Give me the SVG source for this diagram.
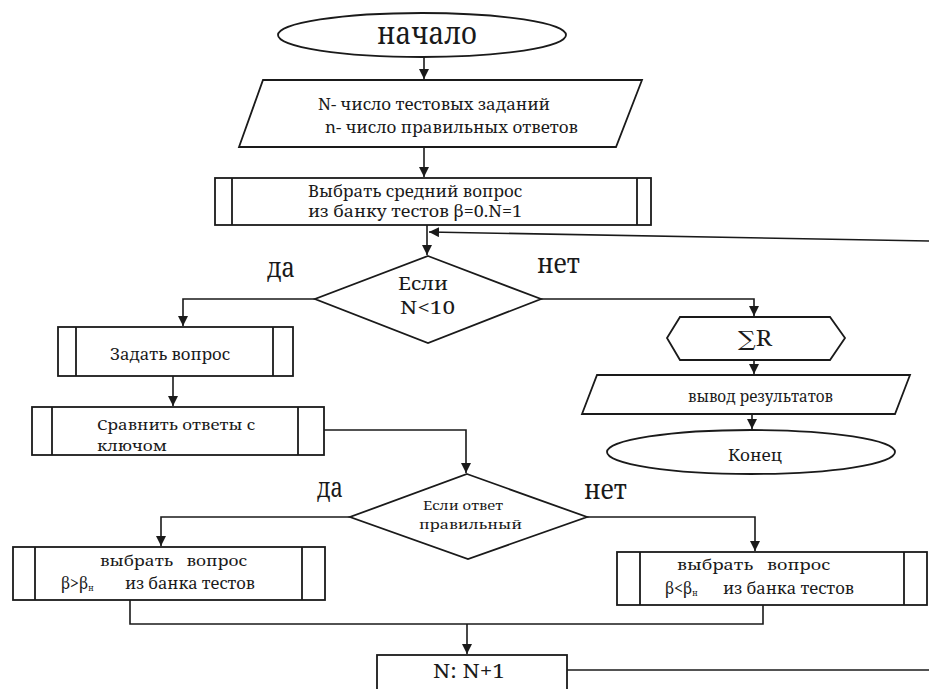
<svg xmlns="http://www.w3.org/2000/svg" width="929" height="689" viewBox="0 0 929 689">
<style>
.s{fill:#fff;stroke:#1a1a1a;stroke-width:1.8}
.l{fill:none;stroke:#1a1a1a;stroke-width:1.8}
.c{fill:none;stroke:#1a1a1a;stroke-width:1.6}
.t{font-family:'Noto Serif','DejaVu Serif','Liberation Serif',serif;fill:#1a1a1a;white-space:pre}
</style>
<defs>
<marker id="a" markerUnits="userSpaceOnUse" markerWidth="12" markerHeight="12" refX="10" refY="5" orient="auto">
<path d="M0,0 L10,5 L0,10 z" fill="#1a1a1a"/>
</marker>
</defs>
<rect width="929" height="689" fill="#fff"/>
<g id="connectors">
<path class="c" d="M424,57 V79" marker-end="url(#a)"/>
<path class="c" d="M424,147 V177" marker-end="url(#a)"/>
<path class="c" d="M929,241 L429,232" marker-end="url(#a)"/>
<path class="c" d="M427,225 V255" marker-end="url(#a)"/>
<path class="c" d="M315,299 H183 V326" marker-end="url(#a)"/>
<path class="c" d="M541,299 H754 V316" marker-end="url(#a)"/>
<path class="c" d="M754,360 V374" marker-end="url(#a)"/>
<path class="c" d="M752,414 V429" marker-end="url(#a)"/>
<path class="c" d="M173,376 V406" marker-end="url(#a)"/>
<path class="c" d="M324,430 H466 V473" marker-end="url(#a)"/>
<path class="c" d="M350,517 H161 V546" marker-end="url(#a)"/>
<path class="c" d="M587,517 H755 V551" marker-end="url(#a)"/>
<path class="c" d="M130,600 V624 H763 V605"/>
<path class="c" d="M467,624 V654" marker-end="url(#a)"/>
<path class="c" d="M567,670 H929"/>
</g>
<g id="start">
<ellipse class="s" cx="422" cy="35" rx="144" ry="22"/>
<text class="t" x="377" y="44" font-size="31" textLength="100" lengthAdjust="spacingAndGlyphs">начало</text>
</g>
<g id="input">
<polygon class="s" points="263,80 642,80 616,147 239,147"/>
<text class="t" x="318" y="110" font-size="16" textLength="232" lengthAdjust="spacingAndGlyphs">N- число тестовых заданий</text>
<text class="t" x="325" y="133" font-size="16" textLength="253" lengthAdjust="spacingAndGlyphs">n- число правильных ответов</text>
</g>
<g id="select-middle">
<rect class="s" x="215" y="178" width="436" height="47"/>
<path class="l" d="M232,178 V225 M637,178 V225"/>
<text class="t" x="308" y="197" font-size="16" textLength="214" lengthAdjust="spacingAndGlyphs">Выбрать средний вопрос</text>
<text class="t" x="308" y="217" font-size="16" textLength="214" lengthAdjust="spacingAndGlyphs">из банку тестов β=0.N=1</text>
</g>
<g id="cond1">
<polygon class="s" points="428,256 541,299 428,343 315,299"/>
<text class="t" x="398" y="290" font-size="18" textLength="50" lengthAdjust="spacingAndGlyphs">Если</text>
<text class="t" x="400" y="314" font-size="18" textLength="55" lengthAdjust="spacingAndGlyphs">N&lt;10</text>
<text class="t" x="267" y="277" font-size="28" textLength="28" lengthAdjust="spacingAndGlyphs">да</text>
<text class="t" x="537" y="273" font-size="28" textLength="43" lengthAdjust="spacingAndGlyphs">нет</text>
</g>
<g id="sum">
<polygon class="s" points="680,317 830,317 845,338 830,360 680,360 667,338"/>
<text class="t" x="738" y="346" font-size="21" textLength="34" lengthAdjust="spacingAndGlyphs">∑R</text>
</g>
<g id="output">
<polygon class="s" points="597,375 910,375 895,414 582,414"/>
<text class="t" x="688" y="402" font-size="16" textLength="145" lengthAdjust="spacingAndGlyphs">вывод результатов</text>
</g>
<g id="end">
<ellipse class="s" cx="751" cy="452" rx="144" ry="22"/>
<text class="t" x="728" y="461" font-size="17" textLength="54" lengthAdjust="spacingAndGlyphs">Конец</text>
</g>
<g id="ask">
<rect class="s" x="58" y="327" width="235" height="49"/>
<path class="l" d="M76,327 V376 M273,327 V376"/>
<text class="t" x="110" y="360" font-size="17" textLength="120" lengthAdjust="spacingAndGlyphs">Задать вопрос</text>
</g>
<g id="compare">
<rect class="s" x="32" y="407" width="292" height="48"/>
<path class="l" d="M52,407 V455 M298,407 V455"/>
<text class="t" x="97" y="430" font-size="15" textLength="158" lengthAdjust="spacingAndGlyphs">Сравнить ответы с</text>
<text class="t" x="97" y="451" font-size="15" textLength="70" lengthAdjust="spacingAndGlyphs">ключом</text>
</g>
<g id="cond2">
<polygon class="s" points="467,474 587,517 468,559 350,517"/>
<text class="t" x="423" y="510" font-size="13" textLength="80" lengthAdjust="spacingAndGlyphs">Если ответ</text>
<text class="t" x="419" y="529" font-size="13" textLength="103" lengthAdjust="spacingAndGlyphs">правильный</text>
<text class="t" x="317" y="497" font-size="28" textLength="26" lengthAdjust="spacingAndGlyphs">да</text>
<text class="t" x="584" y="499" font-size="28" textLength="43" lengthAdjust="spacingAndGlyphs">нет</text>
</g>
<g id="harder">
<rect class="s" x="13" y="547" width="312" height="53"/>
<path class="l" d="M35,547 V600 M302,547 V600"/>
<text class="t" x="100" y="566" font-size="15" textLength="147" lengthAdjust="spacingAndGlyphs">выбрать   вопрос</text>
<text class="t" x="61" y="589" font-size="16">β&gt;β<tspan font-size="8" dy="2">н</tspan></text>
<text class="t" x="125" y="589" font-size="16" textLength="130" lengthAdjust="spacingAndGlyphs">из банка тестов</text>
</g>
<g id="easier">
<rect class="s" x="617" y="552" width="310" height="53"/>
<path class="l" d="M640,552 V605 M904,552 V605"/>
<text class="t" x="677" y="570" font-size="15" textLength="153" lengthAdjust="spacingAndGlyphs">выбрать   вопрос</text>
<text class="t" x="665" y="594" font-size="16">β&lt;β<tspan font-size="8" dy="2">н</tspan></text>
<text class="t" x="723" y="594" font-size="16" textLength="131" lengthAdjust="spacingAndGlyphs">из банка тестов</text>
</g>
<g id="increment">
<rect class="s" x="377" y="655" width="190" height="50"/>
<text class="t" x="433" y="678" font-size="19" textLength="72" lengthAdjust="spacingAndGlyphs">N: N+1</text>
</g>
</svg>
